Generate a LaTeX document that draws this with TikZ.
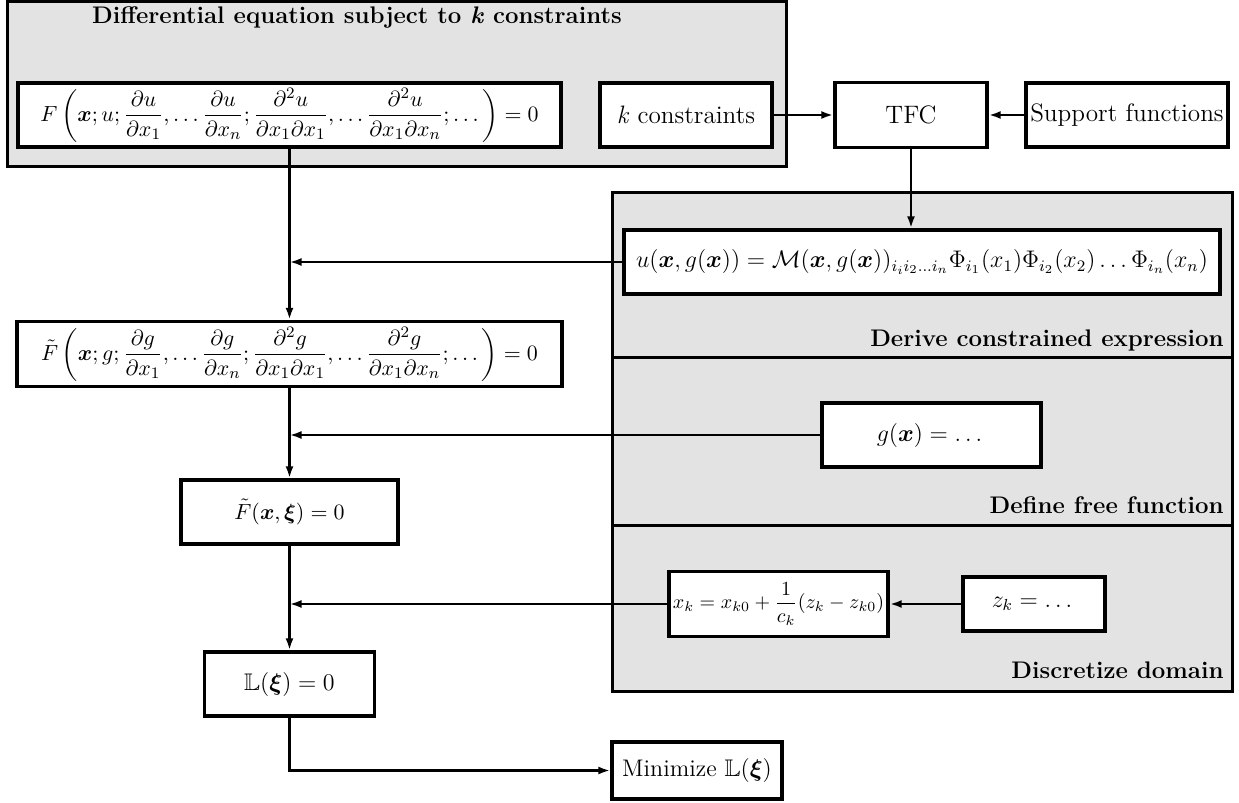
\documentclass[tikz,border=0pt]{standalone}
\usepackage{amsmath,amssymb,bm}
\usetikzlibrary{arrows.meta}
\definecolor{grayfill}{RGB}{227,227,227}
\begin{document}
\begin{tikzpicture}[x=0.5pt,y=-0.5pt,
  box/.style={draw, line width=1.7pt, fill=white, inner sep=0pt, align=center, font=\fontsize{11}{13}\selectfont},
  txt/.style={font=\fontsize{12.6}{15}\selectfont},
  grp/.style={draw, line width=1.5pt, fill=grayfill},
  divl/.style={line width=1.5pt},
  conn/.style={line width=1.2pt, -{Latex[length=6pt,width=4pt]}},
  sect/.style={font=\bfseries\fontsize{12}{14}\selectfont, inner sep=0pt},
]
\useasboundingbox (0,0) rectangle (1239,803);
% group boxes
\draw[grp] (7,1) rectangle (786,166);
\draw[grp] (612,192) rectangle (1232,691);
\draw[divl] (612,357) -- (1232,357);
\draw[divl] (612,525) -- (1232,525);
% section labels
\node[sect] (title) at (357,18) {Differential equation subject to \textit{k} constraints};
\node[sect, anchor=east] (s1) at (1224,340) {Derive constrained expression};
\node[sect, anchor=east] (s2) at (1224,505) {Define free function};
\node[sect, anchor=east] (s3) at (1224,670) {Discretize domain};
% boxes
\node[box, minimum width=271.5pt, minimum height=32pt] (F) at (289.5,115)
  {$\displaystyle F\left(\bm{x}; u; \frac{\partial u}{\partial x_1}, \dots \frac{\partial u}{\partial x_n}; \frac{\partial^2 u}{\partial x_1\partial x_1}, \dots \frac{\partial^2 u}{\partial x_1\partial x_n}; \dots\right) = 0$};
\node[box, txt, minimum width=86pt, minimum height=32pt] (k) at (686,115) {\textit{k} constraints};
\node[box, txt, minimum width=76pt, minimum height=32.5pt] (tfc) at (911,115) {TFC};
\node[box, txt, minimum width=101pt, minimum height=32pt] (sup) at (1127,115) {Support functions};
\node[box, minimum width=298pt, minimum height=32pt, font=\fontsize{12}{14}\selectfont] (u) at (922,262)
  {$u(\bm{x}, g(\bm{x})) = \mathcal{M}(\bm{x}, g(\bm{x}))_{i_i i_2\dots i_n}\Phi_{i_1}(x_1)\Phi_{i_2}(x_2)\dots\Phi_{i_n}(x_n)$};
\node[box, minimum width=109.5pt, minimum height=32pt, font=\fontsize{12}{14}\selectfont] (g) at (931.5,435) {$g(\bm{x}) = \dots$};
\node[box, minimum width=109.5pt, minimum height=32.5pt, font=\fontsize{10}{12}\selectfont] (xk) at (778.5,604)
  {$\displaystyle x_k = x_{k0} + \frac{1}{c_k}(z_k - z_{k0})$};
\node[box, minimum width=71pt, minimum height=27pt, font=\fontsize{12}{14}\selectfont] (zk) at (1034,604) {$z_k = \dots$};
\node[box, minimum width=272.5pt, minimum height=32.5pt] (Ft) at (289.5,354)
  {$\displaystyle \tilde{F}\left(\bm{x}; g; \frac{\partial g}{\partial x_1}, \dots \frac{\partial g}{\partial x_n}; \frac{\partial^2 g}{\partial x_1\partial x_1}, \dots \frac{\partial^2 g}{\partial x_1\partial x_n}; \dots\right) = 0$};
\node[box, minimum width=108.5pt, minimum height=32pt] (Fx) at (289.5,512) {$\tilde{F}(\bm{x}, \bm{\xi}) = 0$};
\node[box, minimum width=85pt, minimum height=32pt, font=\fontsize{12}{14}\selectfont] (L) at (289.5,684) {$\mathbb{L}(\bm{\xi}) = 0$};
\node[box, minimum width=85pt, minimum height=28.5pt, font=\fontsize{12}{14}\selectfont] (min) at (697,770.5) {Minimize $\mathbb{L}(\bm{\xi})$};
% connectors
\draw[conn] (F.south) -- (Ft.north);
\draw[conn] (k.east) -- (tfc.west);
\draw[conn] (sup.west) -- (tfc.east);
\draw[conn] (tfc.south) -- (tfc.south |- u.north);
\draw[conn] (u.west) -- (u.west -| Ft.north);
\draw[conn] (Ft.south) -- (Fx.north);
\draw[conn] (g.west) -- (g.west -| Fx.north);
\draw[conn] (Fx.south) -- (L.north);
\draw[conn] (xk.west) -- (xk.west -| L.north);
\draw[conn] (zk.west) -- (xk.east);
\draw[conn] (L.south) |- (min.west);
\end{tikzpicture}
\end{document}
